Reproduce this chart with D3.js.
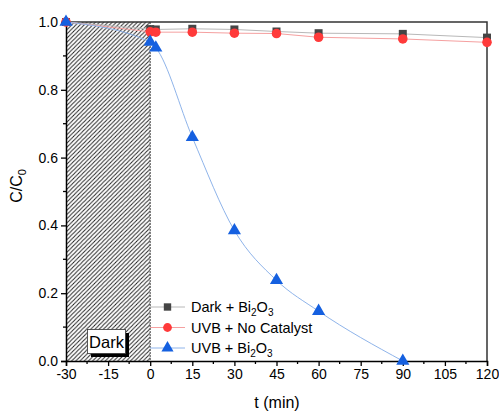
<!DOCTYPE html>
<html>
<head>
<meta charset="utf-8">
<script src="https://cdn.jsdelivr.net/npm/d3@7"></script>
<style>
body { margin: 0; background: white; }
text { font-family: Arial, "Liberation Sans", sans-serif; fill: #000; }
</style>
</head>
<body>
<div id="chart"></div>
<script>
// data
const times = [-30, 0, 2, 15, 30, 45, 60, 90, 120];
const darkBi = [1.0, 0.979, 0.978, 0.980, 0.978, 0.972, 0.967, 0.965, 0.954];
const uvbNoCat = [1.0, 0.971, 0.970, 0.970, 0.967, 0.966, 0.955, 0.950, 0.940];
const timesUvbBi = [-30, 0, 2, 15, 30, 45, 60, 90];
const uvbBi = [1.0, 0.941, 0.924, 0.660, 0.385, 0.238, 0.147, 0.0];
const xTicks = [-30, -15, 0, 15, 30, 45, 60, 75, 90, 105, 120];
const yTicks = [0.0, 0.2, 0.4, 0.6, 0.8, 1.0];

const width = 499, height = 413;
const margin = {left: 66, right: 12, top: 22, bottom: 52};

const svg = d3.select("#chart").append("svg")
    .attr("width", width)
    .attr("height", height);

const x = d3.scaleLinear().domain([-30, 120]).range([margin.left, width - margin.right]);
const y = d3.scaleLinear().domain([0, 1.0]).range([height - margin.bottom, margin.top]);

// hatch pattern for the dark period
const pat = svg.append("defs").append("pattern")
    .attr("id", "hatch")
    .attr("patternUnits", "userSpaceOnUse")
    .attr("width", 4.2)
    .attr("height", 4.2);
pat.append("rect").attr("width", 4.2).attr("height", 4.2).attr("fill", "white");
pat.append("path")
    .attr("d", "M-1.05,1.05 l2.1,-2.1 M0,4.2 l4.2,-4.2 M3.15,5.25 l2.1,-2.1")
    .attr("stroke", "#222")
    .attr("stroke-width", 1);

svg.append("rect")
    .attr("x", x(-30))
    .attr("y", y(1.0))
    .attr("width", x(0) - x(-30))
    .attr("height", y(0) - y(1.0))
    .attr("fill", "url(#hatch)");
svg.append("line")
    .attr("x1", x(0)).attr("x2", x(0))
    .attr("y1", y(1.0)).attr("y2", y(0))
    .attr("stroke", "#222")
    .attr("stroke-width", 0.8)
    .attr("stroke-dasharray", "2,1");

// frame (top + right)
svg.append("path")
    .attr("d", `M${x(-30)},${y(1.0)}H${x(120)}V${y(0)}`)
    .attr("fill", "none")
    .attr("stroke", "#333")
    .attr("stroke-width", 1.5);

// axes
const minorX = d3.range(-22.5, 120, 15);
const minorY = d3.range(0.1, 1.0, 0.2);

const gx = svg.append("g").attr("transform", `translate(0,${y(0)})`);
gx.call(d3.axisBottom(x).tickValues(xTicks).tickSize(5).tickPadding(3).tickFormat(d => String(d)));
minorX.forEach(v => {
    gx.append("line").attr("x1", x(v)).attr("x2", x(v)).attr("y1", 0).attr("y2", 3)
        .attr("stroke", "#000").attr("stroke-width", 1.3);
});

const gy = svg.append("g").attr("transform", `translate(${x(-30)},0)`);
gy.call(d3.axisLeft(y).tickValues(yTicks).tickSize(5).tickPadding(3).tickFormat(d => d.toFixed(1)));
minorY.forEach(v => {
    gy.append("line").attr("x1", 0).attr("x2", -3).attr("y1", y(v)).attr("y2", y(v))
        .attr("stroke", "#000").attr("stroke-width", 1.3);
});

[gx, gy].forEach(g => {
    g.select(".domain").attr("stroke", "#000").attr("stroke-width", 1.5);
    g.selectAll(".tick line").attr("stroke", "#000").attr("stroke-width", 1.3);
    g.selectAll(".tick text").attr("font-size", 14).attr("fill", "#000")
        .style("font-family", "Arial, 'Liberation Sans', sans-serif");
});

// axis labels
svg.append("text")
    .attr("x", 277)
    .attr("y", 408)
    .attr("text-anchor", "middle")
    .attr("font-size", 16)
    .text("t (min)");

const yl = svg.append("text")
    .attr("transform", "translate(22,186) rotate(-90)")
    .attr("text-anchor", "middle")
    .attr("font-size", 16);
yl.append("tspan").text("C/C");
yl.append("tspan").attr("font-size", 11).attr("dy", 4).text("0");

// series
const series = [
    {name: "Dark + Bi", t: times, v: darkBi, marker: d3.symbolSquare, size: 64, fill: "#454545", line: "#b8b8b8", curve: d3.curveLinear},
    {name: "UVB + No Catalyst", t: times, v: uvbNoCat, marker: d3.symbolCircle, size: 72, fill: "#ff3a3a", line: "#f5a0a0", curve: d3.curveLinear},
    {name: "UVB + Bi", t: timesUvbBi, v: uvbBi, marker: d3.symbolTriangle, size: 75, fill: "#1560e0", line: "#8fb4ea", curve: d3.curveMonotoneX}
];

series.forEach(s => {
    const pts = s.t.map((t, i) => [t, s.v[i]]);
    svg.append("path")
        .datum(pts)
        .attr("fill", "none")
        .attr("stroke", s.line)
        .attr("stroke-width", 1)
        .attr("d", d3.line().x(d => x(d[0])).y(d => y(d[1])).curve(s.curve));
});
series.forEach(s => {
    const pts = s.t.map((t, i) => [t, s.v[i]]);
    svg.append("g").selectAll("path")
        .data(pts)
        .join("path")
        .attr("transform", d => `translate(${x(d[0])},${y(d[1])})`)
        .attr("d", d3.symbol().type(s.marker).size(s.size))
        .attr("fill", s.fill);
});

// legend
const legend = svg.append("g");
series.forEach((s, i) => {
    const ly = 307 + i * 20.5;
    legend.append("line")
        .attr("x1", 150).attr("x2", 185)
        .attr("y1", ly).attr("y2", ly)
        .attr("stroke", s.line).attr("stroke-width", 1);
    legend.append("path")
        .attr("transform", `translate(167.5,${ly})`)
        .attr("d", d3.symbol().type(s.marker).size(s.size * 0.85))
        .attr("fill", s.fill);
    const t = legend.append("text")
        .attr("x", 191)
        .attr("y", ly + 5)
        .attr("font-size", 14.5);
    t.append("tspan").text(s.name);
    if (s.name.endsWith("Bi")) {
        t.append("tspan").attr("font-size", 10).attr("dy", 4).text("2");
        t.append("tspan").attr("dy", -4).text("O");
        t.append("tspan").attr("font-size", 10).attr("dy", 4).text("3");
    }
});

// "Dark" label box with shadow
svg.append("rect")
    .attr("x", 91).attr("y", 333).attr("width", 38).attr("height", 24)
    .attr("fill", "#000");
svg.append("rect")
    .attr("x", 87.5).attr("y", 329.5).attr("width", 38).attr("height", 24)
    .attr("fill", "white").attr("stroke", "#333").attr("stroke-width", 0.8);
svg.append("text")
    .attr("x", 106.5).attr("y", 347.5)
    .attr("text-anchor", "middle")
    .attr("font-size", 16.5)
    .text("Dark");
</script>
</body>
</html>
